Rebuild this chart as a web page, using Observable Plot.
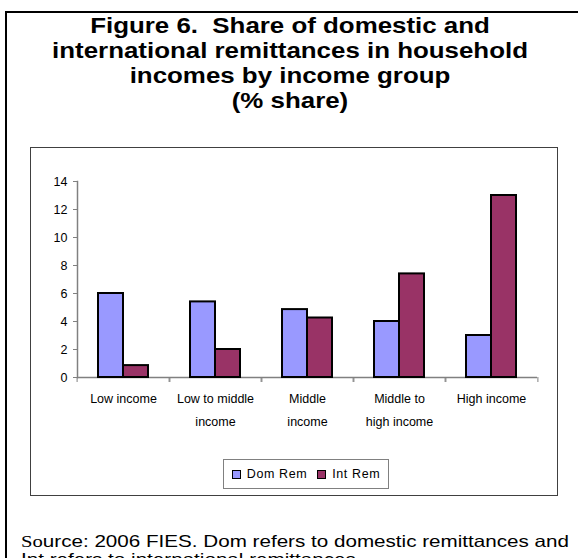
<!DOCTYPE html>
<html><head><meta charset="utf-8">
<script src="https://cdn.jsdelivr.net/npm/d3@7"></script>
<script src="https://cdn.jsdelivr.net/npm/@observablehq/plot@0.6"></script>
<style>
html,body{margin:0;padding:0;background:#fff;}
body{width:578px;height:558px;position:relative;overflow:hidden;font-family:"Liberation Sans",Arial,sans-serif;color:#000;}
#outer{position:absolute;left:5px;top:11px;width:700px;height:700px;border-left:2px solid #000;border-top:2px solid #000;box-sizing:border-box;}
#title{position:absolute;left:0;top:13px;width:580px;text-align:center;font-weight:bold;font-size:22.5px;line-height:25px;white-space:pre;transform:scaleX(1.15);transform-origin:290px 0;}
#chart{position:absolute;left:0;top:147px;}
#inner{position:absolute;left:30px;top:147px;width:528px;height:349px;border:1px solid #404040;box-sizing:border-box;pointer-events:none;}
#legend{position:absolute;left:223px;top:459px;width:166px;height:30px;border:1px solid #808080;box-sizing:border-box;background:#fff;display:flex;align-items:center;justify-content:center;gap:10px;font-size:12.5px;letter-spacing:0.6px;}
#legend .item{display:flex;align-items:center;gap:6px;}
#legend .sw{width:7px;height:7px;border:1.5px solid #000;}
#source{position:absolute;left:21px;top:533px;font-size:16.5px;line-height:16.5px;white-space:nowrap;transform:scaleX(1.25);transform-origin:0 0;}
</style>
</head><body>
<div id="outer"></div>
<div id="title"></div>
<div id="chart"></div>
<div id="inner"></div>
<div id="legend"></div>
<div id="source"><span style="font-family:'Liberation Serif','Times New Roman',serif">So</span>urce: 2006 FIES. Dom refers to domestic remittances and<br>Int refers to international remittances</div>
<script>
const titleLines = ["Figure 6.  Share of domestic and", "international remittances in household", "incomes by income group", "(% share)"];
const categories = ["Low income", "Low to middle income", "Middle income", "Middle to high income", "High income"];
const categoryLabels = ["Low income", "Low to middle\nincome", "Middle\nincome", "Middle to\nhigh income", "High income"];
const series = ["Dom Rem", "Int Rem"];
const domRem = [6.0, 5.4, 4.85, 4.0, 3.0];
const intRem = [0.85, 2.0, 4.25, 7.4, 13.0];
const yTicks = [0, 2, 4, 6, 8, 10, 12, 14];
const colors = ["#9999FF", "#993366"];

document.getElementById("title").textContent = titleLines.join("\n");

const rows = categories.flatMap((c, i) => [
  {category: c, series: series[0], value: domRem[i]},
  {category: c, series: series[1], value: intRem[i]}
]);
const labelOf = new Map(categories.map((c, i) => [c, categoryLabels[i]]));

const W = 578, ML = 75, MR = 39, MT = 34, MB = 68, H = 298;
const step = (W - ML - MR) / categories.length;

const chart = Plot.plot({
  width: W, height: H,
  marginLeft: ML, marginRight: MR, marginTop: MT, marginBottom: MB,
  style: {background: "transparent", fontFamily: "'Liberation Sans', Arial, sans-serif", color: "#000", overflow: "visible"},
  fx: {domain: categories, padding: 0, label: null},
  x: {domain: series, paddingInner: 0, paddingOuter: 0.785, axis: null},
  y: {domain: [0, 14], label: null},
  color: {domain: series, range: colors},
  marks: [
    Plot.frame({anchor: "left", facetAnchor: "left", stroke: "#808080", strokeWidth: 1.5}),
    Plot.ruleY([0], {stroke: "#808080", strokeWidth: 1.5}),
    Plot.axisY(yTicks, {tickSize: 4, tickPadding: 6, fontSize: 12.5, stroke: "#808080", fill: "#000", label: null}),
    Plot.axisFx({anchor: "bottom", tickSize: 0, tickPadding: 10, fontSize: 12.5, lineHeight: 1.8, tickFormat: (d) => labelOf.get(d), label: null, fill: "#000", letterSpacing: 1}),
    Plot.axisFx({anchor: "bottom", tickSize: 5, tickFormat: () => "", dx: -step / 2, stroke: "#808080", label: null}),
    Plot.axisFx([categories[categories.length - 1]], {anchor: "bottom", tickSize: 5, tickFormat: () => "", dx: step / 2, stroke: "#808080", label: null}),
    Plot.barY(rows, {fx: "category", x: "series", y: "value", fill: "series", stroke: "#000", strokeWidth: 2})
  ]
});
document.getElementById("chart").appendChild(chart);

const legend = document.getElementById("legend");
series.forEach((s, i) => {
  const item = document.createElement("div");
  item.className = "item";
  const sw = document.createElement("div");
  sw.className = "sw";
  sw.style.background = colors[i];
  const t = document.createElement("span");
  t.textContent = s;
  item.appendChild(sw); item.appendChild(t);
  legend.appendChild(item);
});
</script>
</body></html>
